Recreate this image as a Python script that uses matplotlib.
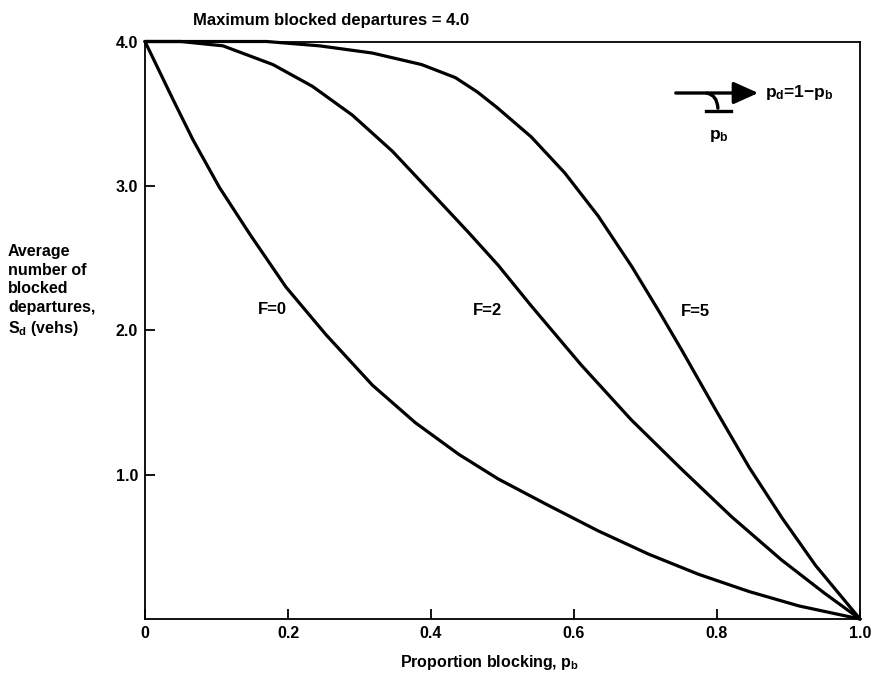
"""Average number of blocked departures vs. proportion blocking, for F = 0, 2, 5."""
import matplotlib
matplotlib.use("Agg")
import matplotlib.pyplot as plt
from matplotlib.patches import FancyArrowPatch

plt.rcParams["font.family"] = ["Liberation Sans", "DejaVu Sans"]
plt.rcParams["font.weight"] = "bold"
plt.rcParams["mathtext.default"] = "regular"

# --- values -------------------------------------------------------------------
P_F0 = [0, 0.039, 0.067, 0.104, 0.146, 0.197, 0.253, 0.318, 0.378, 0.439, 0.494,
        0.563, 0.634, 0.704, 0.774, 0.845, 0.915, 1.0]
S_F0 = [4.0, 3.60, 3.32, 2.99, 2.67, 2.30, 1.97, 1.62, 1.36, 1.14, 0.97,
        0.79, 0.61, 0.45, 0.31, 0.19, 0.09, 0.0]

P_F2 = [0, 0.05, 0.109, 0.179, 0.234, 0.29, 0.346, 0.401, 0.452, 0.494,
        0.54, 0.61, 0.68, 0.75, 0.82, 0.89, 0.95, 1.0]
S_F2 = [4.0, 4.0, 3.97, 3.84, 3.69, 3.49, 3.24, 2.95, 2.68, 2.45,
        2.17, 1.76, 1.38, 1.04, 0.71, 0.41, 0.18, 0.0]

P_F5 = [0, 0.1, 0.17, 0.244, 0.318, 0.387, 0.434, 0.465, 0.493, 0.54, 0.587,
        0.634, 0.681, 0.719, 0.751, 0.798, 0.845, 0.891, 0.938, 1.0]
S_F5 = [4.0, 4.0, 4.0, 3.97, 3.92, 3.84, 3.75, 3.65, 3.54, 3.34, 3.09,
        2.79, 2.44, 2.13, 1.86, 1.45, 1.05, 0.70, 0.37, 0.0]

X_TICKS = [0, 0.2, 0.4, 0.6, 0.8, 1.0]
X_TICK_LABELS = ["0", "0.2", "0.4", "0.6", "0.8", "1.0"]
Y_TICKS = [1.0, 2.0, 3.0, 4.0]
Y_TICK_LABELS = ["1.0", "2.0", "3.0", "4.0"]

CURVE_LABELS = ["F=0", "F=2", "F=5"]


def main() -> None:
    fig = plt.figure(figsize=(8.73, 6.75), dpi=100)
    ax = fig.add_axes([145 / 873, 1 - 619 / 675, 715 / 873, 577.5 / 675])

    for px, sy in [(P_F0, S_F0), (P_F2, S_F2), (P_F5, S_F5)]:
        ax.plot(px, sy, color="black", lw=2.3, solid_capstyle="round",
                solid_joinstyle="round", clip_on=False)

    ax.set_xlim(0, 1.0)
    ax.set_ylim(0, 4.0)
    ax.set_xticks(X_TICKS, X_TICK_LABELS)
    ax.set_yticks(Y_TICKS, Y_TICK_LABELS)
    ax.tick_params(direction="in", length=7, width=1.3, labelsize=11.5, pad=5)
    for s in ax.spines.values():
        s.set_linewidth(1.3)

    # curve labels
    for lab, (x, y) in zip(CURVE_LABELS, [(272, 310), (487, 311), (695, 312)]):
        fig.text(x / 873, 1 - y / 675, lab, ha="center", va="center", fontsize=12)

    fig.text(193 / 873, 1 - 20 / 675, "Maximum blocked departures = 4.0",
             ha="left", va="center", fontsize=12)

    fig.text(490 / 873, 1 - 662 / 675, "Proportion blocking, p$_b$",
             ha="center", va="center", fontsize=11.5)

    fig.text(8 / 873, 1 - 291 / 675,
             "Average\nnumber of\nblocked\ndepartures,\nS$_d$ (vehs)",
             ha="left", va="center", fontsize=11.5, linespacing=1.3)

    # inset sketch: blocked/departing split
    tr = fig.transFigure
    def fx(x): return x / 873
    def fy(y): return 1 - y / 675
    fig.add_artist(FancyArrowPatch((fx(673), fy(93)), (fx(761), fy(93)), transform=tr,
                                   arrowstyle="-|>,head_length=10,head_width=4.5",
                                   lw=2.4, color="black", mutation_scale=1.5))
    fig.add_artist(FancyArrowPatch((fx(704), fy(93)), (fx(718), fy(111)), transform=tr,
                                   connectionstyle="angle3,angleA=0,angleB=90",
                                   arrowstyle="-", lw=2.4, color="black"))
    fig.add_artist(plt.Line2D([fx(706), fx(731)], [fy(111), fy(111)], transform=tr,
                              lw=2.4, color="black"))
    fig.text(fx(765), fy(92), "p$_d$=1\u2212p$_b$", ha="left", va="center", fontsize=12.5)
    fig.text(fx(719), fy(136), "p$_b$", ha="center", va="center", fontsize=12.5)

    fig.savefig("out.png", dpi=100)


if __name__ == "__main__":
    main()
